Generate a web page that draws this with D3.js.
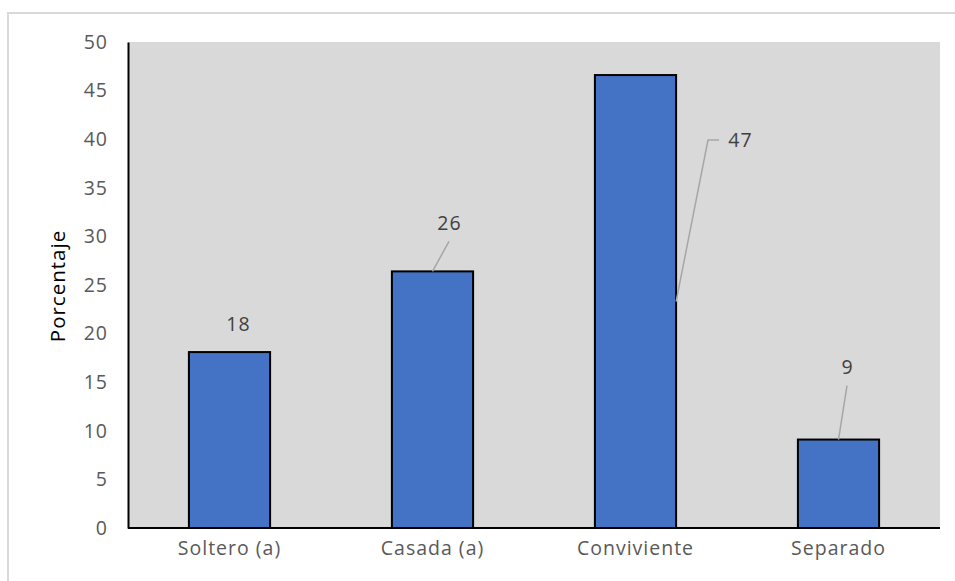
<!DOCTYPE html>
<html>
<head>
<meta charset="utf-8">
<script src="https://cdn.jsdelivr.net/npm/d3@7/dist/d3.min.js"></script>
<style>
  html, body { margin: 0; padding: 0; background: #fff; }
  svg { display: block; }
  text { font-family: "Open Sans", Lato, sans-serif; }
</style>
</head>
<body>
<svg id="chart" width="955" height="581"></svg>
<script>
// Estado civil de los encuestados (porcentaje)
const categories = ["Soltero (a)", "Casada (a)", "Conviviente", "Separado"];
const values = [18.1, 26.4, 46.6, 9.1];
const yTicks = [0, 5, 10, 15, 20, 25, 30, 35, 40, 45, 50];

// Where each value label sits, relative to the top centre of its bar
const labelOffsets = [
  { dx: 8.5, dy: -28, leader: false },
  { dx: 16.5, dy: -48, leader: true },
  { dx: 104.5, dy: 65, leader: "side" },
  { dx: 8.5, dy: -72, leader: true }
];

const svg = d3.select("#chart");
const plot = { left: 128, right: 940, top: 42, bottom: 528 };

// Outer chart frame
svg.append("rect")
  .attr("x", 8).attr("y", 13)
  .attr("width", 1000).attr("height", 620)
  .attr("fill", "#fff")
  .attr("stroke", "#d9d9d9").attr("stroke-width", 2);

const x = d3.scaleBand()
  .domain(categories)
  .range([plot.left, plot.right])
  .paddingInner(0.6).paddingOuter(0.3);

const y = d3.scaleLinear()
  .domain([0, 50])
  .range([plot.bottom, plot.top]);

// Plot area background
svg.append("rect")
  .attr("x", plot.left).attr("y", plot.top)
  .attr("width", plot.right - plot.left)
  .attr("height", plot.bottom - plot.top)
  .attr("fill", "#d9d9d9");

// Bars
svg.append("g").selectAll("rect")
  .data(values)
  .join("rect")
  .attr("x", (d, i) => x(categories[i]))
  .attr("y", d => y(d))
  .attr("width", x.bandwidth())
  .attr("height", d => y(0) - y(d))
  .attr("fill", "#4472c4")
  .attr("stroke", "#000")
  .attr("stroke-width", 2);

// Y axis
const yAxis = svg.append("g")
  .attr("transform", `translate(${plot.left},0)`)
  .call(d3.axisLeft(y).tickValues(yTicks).tickSize(0).tickPadding(20));
yAxis.select(".domain").attr("stroke", "#000").attr("stroke-width", 2);
yAxis.selectAll("text")
  .attr("fill", "#595959")
  .style("font-size", "19.5px")
  .style("letter-spacing", "1px");

// X axis
const xAxis = svg.append("g")
  .attr("transform", `translate(0,${plot.bottom})`)
  .call(d3.axisBottom(x).tickSize(0).tickPadding(13));
xAxis.select(".domain").attr("stroke", "#000").attr("stroke-width", 2)
  .attr("d", `M${plot.left},0H${plot.right}`);
xAxis.selectAll("text")
  .attr("fill", "#595959")
  .style("font-size", "19.5px")
  .style("letter-spacing", "1px");

// Axis title
svg.append("text")
  .attr("transform", `translate(65,${(plot.top + plot.bottom) / 2 + 1}) rotate(-90)`)
  .attr("text-anchor", "middle")
  .attr("fill", "#000")
  .style("font-size", "20.5px")
  .style("letter-spacing", "1px")
  .text("Porcentaje");

// Value labels with leader lines
const fmt = d3.format(".0f");
const labels = svg.append("g");
values.forEach((v, i) => {
  const cx = x(categories[i]) + x.bandwidth() / 2;
  const top = y(v);
  const o = labelOffsets[i];
  const lx = cx + o.dx, ly = top + o.dy;
  if (o.leader === true) {
    labels.append("path")
      .attr("d", `M${lx},${ly + 18}L${cx},${top}`)
      .attr("stroke", "#a6a6a6").attr("stroke-width", 1.5).attr("fill", "none");
  } else if (o.leader === "side") {
    const rx = x(categories[i]) + x.bandwidth();
    labels.append("path")
      .attr("d", `M${lx - 21},${ly}H${lx - 32}L${rx},${y(v / 2)}`)
      .attr("stroke", "#a6a6a6").attr("stroke-width", 1.5).attr("fill", "none");
  }
  labels.append("text")
    .attr("x", lx + 0.5).attr("y", ly)
    .attr("dy", "0.35em")
    .attr("text-anchor", "middle")
    .attr("fill", "#404040")
    .style("font-size", "19.5px")
    .style("letter-spacing", "1px")
    .text(fmt(v));
});
</script>
</body>
</html>
